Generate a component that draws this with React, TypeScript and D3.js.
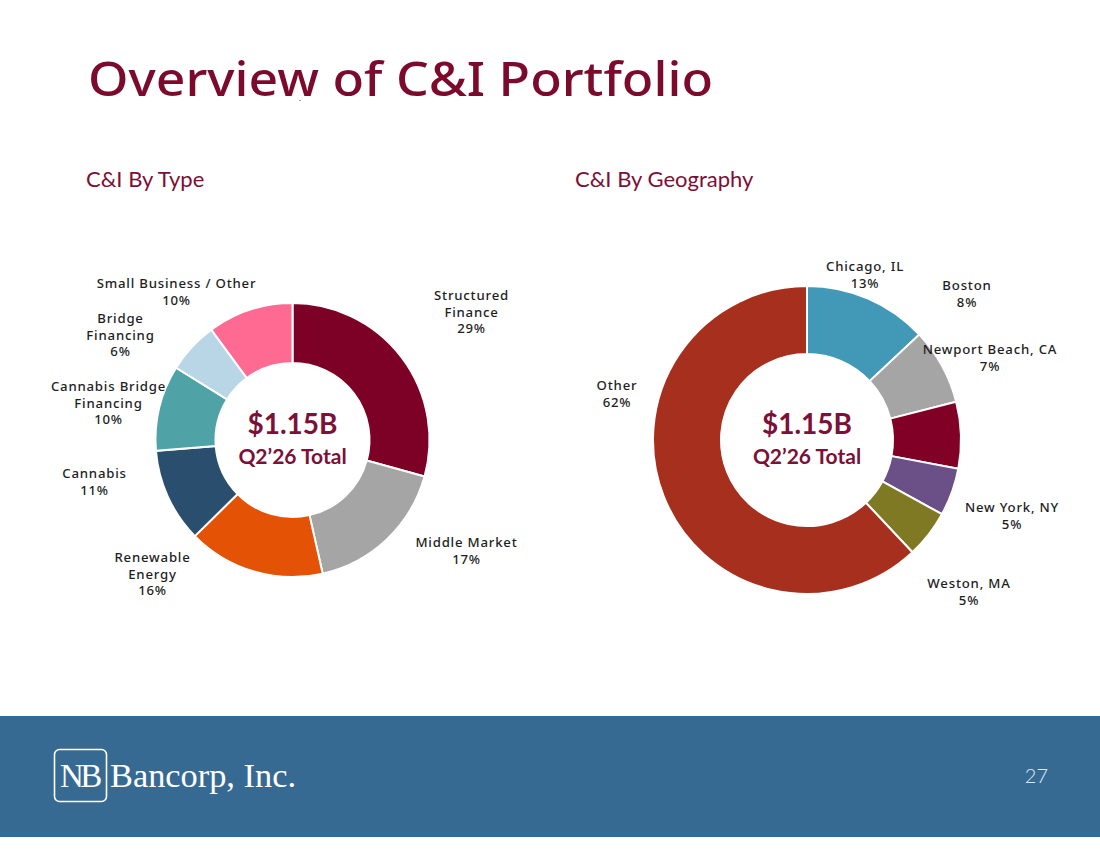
import React from "react";
import * as d3 from "d3";

// C&I by type
const typeNames = [
  ["Structured", "Finance"],
  ["Middle Market"],
  ["Renewable", "Energy"],
  ["Cannabis"],
  ["Cannabis Bridge", "Financing"],
  ["Bridge", "Financing"],
  ["Small Business / Other"],
];
const typeShares = [29, 17, 16, 11, 10, 6, 10];
const typeColors = ["#7D0026", "#A5A5A5", "#E35205", "#2A4F6E", "#4FA3A7", "#B8D6E6", "#FF6A92"];

// C&I by geography
const geoNames = [
  ["Chicago, IL"],
  ["Boston"],
  ["Newport Beach, CA"],
  ["New York, NY"],
  ["Weston, MA"],
  ["Other"],
];
const geoShares = [13, 8, 7, 5, 5, 62];
const geoColors = ["#4198B7", "#A5A5A5", "#800026", "#6B4F87", "#7F7923", "#A62F1E"];

const centerAmount = "$1.15B";
const centerCaption = "Q2\u201926 Total";

// Label anchors (centre of the label block), relative to each donut's centre
const typeLabelAt: [number, number][] = [
  [179, -128],
  [174, 111],
  [-140, 134],
  [-198, 42],
  [-184, -37],
  [-172, -105],
  [-116, -148],
];
const geoLabelAt: [number, number][] = [
  [58, -165],
  [160, -146],
  [183, -82],
  [205, 76],
  [162, 152],
  [-190, -46],
];

const MAROON = "#7C0A2C";
const LABEL_FONT = "'Noto Sans', sans-serif";
const LINE_H = 16.6;

type DonutProps = {
  cx: number;
  cy: number;
  rOuter: number;
  rInner: number;
  names: string[][];
  shares: number[];
  colors: string[];
  labelAt: [number, number][];
};

function Donut({ cx, cy, rOuter, rInner, names, shares, colors, labelAt }: DonutProps) {
  const pie = d3.pie<number>().sort(null).value((d) => d);
  const arcs = pie(shares);
  const arc = d3.arc<d3.PieArcDatum<number>>().innerRadius(rInner).outerRadius(rOuter);
  const color = d3.scaleOrdinal<number, string>().domain(d3.range(shares.length)).range(colors);

  return (
    <g transform={`translate(${cx},${cy})`}>
      {arcs.map((a, i) => (
        <path key={i} d={arc(a) || ""} fill={color(i)} stroke="#FFFFFF" strokeWidth={2} />
      ))}
      {arcs.map((a, i) => {
        const lines = [...names[i], `${shares[i]}%`];
        const [lx, ly] = labelAt[i];
        const top = ly - ((lines.length - 1) * LINE_H) / 2;
        return (
          <text
            key={`l${i}`}
            x={lx}
            textAnchor="middle"
            fontFamily={LABEL_FONT}
            fontSize={13.2}
            fontWeight={500}
            letterSpacing={0.8}
            fill="#1E1E1E"
          >
            {lines.map((t, j) => (
              <tspan key={j} x={lx} y={top + j * LINE_H} dy="0.35em">
                {t}
              </tspan>
            ))}
          </text>
        );
      })}
      <text
        x={0}
        y={-6}
        textAnchor="middle"
        fontFamily="Lato, sans-serif"
        fontWeight={700}
        fontSize={28}
        fill="#7B1038"
      >
        {centerAmount}
      </text>
      <text
        x={0}
        y={24}
        textAnchor="middle"
        fontFamily="Lato, sans-serif"
        fontWeight={700}
        fontSize={21}
        fill="#7B1038"
      >
        {centerCaption}
      </text>
    </g>
  );
}

export default function App() {
  const W = 1100;
  const H = 849;
  return (
    <svg
      width={W}
      height={H}
      viewBox={`0 0 ${W} ${H}`}
      style={{ position: "absolute", left: 0, top: 0, background: "#FFFFFF" }}
    >
      <rect x={0} y={0} width={W} height={H} fill="#FFFFFF" />
      <text
        x={88}
        y={96}
        fontFamily="'Noto Sans', sans-serif"
        fontWeight={500}
        fontSize={48}
        fill={MAROON}
        textLength={625}
        lengthAdjust="spacingAndGlyphs"
      >
        Overview of C&amp;I Portfolio
      </text>
      <rect x={299.5} y={100} width={1} height={1} fill="#333" />

      <text x={86} y={187} fontFamily="Lato, sans-serif" fontSize={22} fill="#7C1034">
        C&amp;I By Type
      </text>
      <text x={575} y={187} fontFamily="Lato, sans-serif" fontSize={22} fill="#7C1034">
        C&amp;I By Geography
      </text>

      <Donut
        cx={292.5}
        cy={440}
        rOuter={137}
        rInner={77}
        names={typeNames}
        shares={typeShares}
        colors={typeColors}
        labelAt={typeLabelAt}
      />
      <Donut
        cx={807}
        cy={440}
        rOuter={154}
        rInner={86}
        names={geoNames}
        shares={geoShares}
        colors={geoColors}
        labelAt={geoLabelAt}
      />

      {/* footer band with logo and page number */}
      <rect x={0} y={716} width={W} height={121} fill="#376A92" />
      <rect x={54.5} y={749.5} width={52} height={52} rx={5} fill="none" stroke="#FFFFFF" strokeWidth={1.6} />
      <text
        x={60}
        y={787}
        fontFamily="'Liberation Serif', serif"
        fontSize={33}
        letterSpacing={-3.5}
        fill="#FFFFFF"
      >
        NB
      </text>
      <text
        x={110}
        y={787}
        fontFamily="'Liberation Serif', serif"
        fontSize={33}
        fill="#FFFFFF"
        textLength={186}
        lengthAdjust="spacingAndGlyphs"
      >
        Bancorp, Inc.
      </text>
      <text
        x={1048}
        y={783}
        textAnchor="end"
        fontFamily="Lato, sans-serif"
        fontWeight={300}
        fontSize={20}
        fill="#DCE6F0"
      >
        27
      </text>
    </svg>
  );
}
